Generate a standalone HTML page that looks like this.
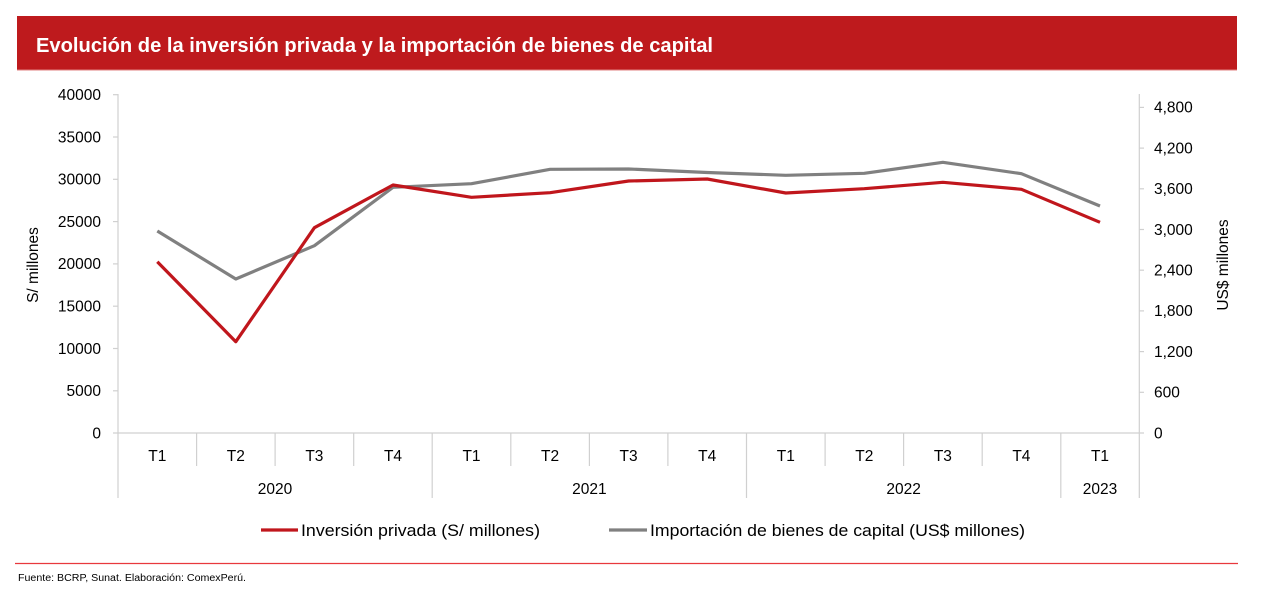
<!DOCTYPE html>
<html>
<head>
<meta charset="utf-8">
<style>
  html,body{margin:0;padding:0;background:#fff;}
  svg{display:block;font-family:"Liberation Sans",Arial,sans-serif;}
</style>
</head>
<body>
<svg width="1263" height="595" viewBox="0 0 1263 595" xmlns="http://www.w3.org/2000/svg">
  <rect x="0" y="0" width="1263" height="595" fill="#fff"/>
  <!-- Header -->
  <rect x="17" y="16" width="1220" height="54" fill="#BE1A1D"/>
  <line x1="17" y1="70" x2="1237" y2="70" stroke="#E08080" stroke-width="1"/>
  <text x="36" y="52" fill="#fff" font-size="20" font-weight="bold" textLength="677" lengthAdjust="spacingAndGlyphs">Evolución de la inversión privada y la importación de bienes de capital</text>

  <!-- Axes -->
  <g stroke="#D0D0D0" stroke-width="1.2" fill="none">
    <line x1="118" y1="94" x2="118" y2="498"/>
    <line x1="1139.3" y1="94" x2="1139.3" y2="498"/>
    <line x1="113" y1="433" x2="1144" y2="433"/>
    <line x1="113" y1="94.7" x2="118" y2="94.7"/>
    <line x1="113" y1="137" x2="118" y2="137"/>
    <line x1="113" y1="179.3" x2="118" y2="179.3"/>
    <line x1="113" y1="221.6" x2="118" y2="221.6"/>
    <line x1="113" y1="263.9" x2="118" y2="263.9"/>
    <line x1="113" y1="306.2" x2="118" y2="306.2"/>
    <line x1="113" y1="348.5" x2="118" y2="348.5"/>
    <line x1="113" y1="390.8" x2="118" y2="390.8"/>
    <line x1="1139.3" y1="107.4" x2="1144" y2="107.4"/>
    <line x1="1139.3" y1="148.1" x2="1144" y2="148.1"/>
    <line x1="1139.3" y1="188.8" x2="1144" y2="188.8"/>
    <line x1="1139.3" y1="229.5" x2="1144" y2="229.5"/>
    <line x1="1139.3" y1="270.2" x2="1144" y2="270.2"/>
    <line x1="1139.3" y1="310.9" x2="1144" y2="310.9"/>
    <line x1="1139.3" y1="351.6" x2="1144" y2="351.6"/>
    <line x1="1139.3" y1="392.3" x2="1144" y2="392.3"/>
    <line x1="196.6" y1="433" x2="196.6" y2="466"/>
    <line x1="275.1" y1="433" x2="275.1" y2="466"/>
    <line x1="353.7" y1="433" x2="353.7" y2="466"/>
    <line x1="432.2" y1="433" x2="432.2" y2="498"/>
    <line x1="510.8" y1="433" x2="510.8" y2="466"/>
    <line x1="589.4" y1="433" x2="589.4" y2="466"/>
    <line x1="667.9" y1="433" x2="667.9" y2="466"/>
    <line x1="746.5" y1="433" x2="746.5" y2="498"/>
    <line x1="825.1" y1="433" x2="825.1" y2="466"/>
    <line x1="903.6" y1="433" x2="903.6" y2="466"/>
    <line x1="982.2" y1="433" x2="982.2" y2="466"/>
    <line x1="1060.8" y1="433" x2="1060.8" y2="498"/>
  </g>

  <!-- Left tick labels -->
  <g font-size="15.5" fill="#000" text-anchor="end">
    <text x="101" y="100">40000</text>
    <text x="101" y="142.3">35000</text>
    <text x="101" y="184.6">30000</text>
    <text x="101" y="226.9">25000</text>
    <text x="101" y="269.2">20000</text>
    <text x="101" y="311.5">15000</text>
    <text x="101" y="353.8">10000</text>
    <text x="101" y="396.1">5000</text>
    <text x="101" y="438.4">0</text>
  </g>
  <!-- Right tick labels -->
  <g font-size="15.5" fill="#000" text-anchor="start">
    <text x="1154" y="112.7">4,800</text>
    <text x="1154" y="153.4">4,200</text>
    <text x="1154" y="194.1">3,600</text>
    <text x="1154" y="234.8">3,000</text>
    <text x="1154" y="275.5">2,400</text>
    <text x="1154" y="316.2">1,800</text>
    <text x="1154" y="356.9">1,200</text>
    <text x="1154" y="397.6">600</text>
    <text x="1154" y="438.3">0</text>
  </g>

  <!-- Axis titles -->
  <text transform="translate(38,265) rotate(-90)" font-size="15.5" text-anchor="middle">S/ millones</text>
  <text transform="translate(1228,265) rotate(-90)" font-size="15.5" text-anchor="middle">US$ millones</text>

  <!-- Category labels -->
  <g font-size="15.5" text-anchor="middle" fill="#000">
    <text x="157.3" y="461">T1</text>
    <text x="235.8" y="461">T2</text>
    <text x="314.4" y="461">T3</text>
    <text x="393" y="461">T4</text>
    <text x="471.5" y="461">T1</text>
    <text x="550.1" y="461">T2</text>
    <text x="628.6" y="461">T3</text>
    <text x="707.2" y="461">T4</text>
    <text x="785.8" y="461">T1</text>
    <text x="864.3" y="461">T2</text>
    <text x="942.9" y="461">T3</text>
    <text x="1021.4" y="461">T4</text>
    <text x="1100" y="461">T1</text>
    <text x="275" y="494">2020</text>
    <text x="589.4" y="494">2021</text>
    <text x="903.6" y="494">2022</text>
    <text x="1100" y="494">2023</text>
  </g>

  <!-- Series -->
  <polyline fill="none" stroke="#808080" stroke-width="3.2" stroke-linejoin="round"
    points="157.3,231 235.8,279 314.4,245.7 393,187.3 471.5,183.7 550.1,169.3 628.6,169 707.2,172.5 785.8,175.3 864.3,173.3 942.9,162.3 1021.4,173.7 1100,206"/>
  <polyline fill="none" stroke="#C0161C" stroke-width="3.2" stroke-linejoin="round"
    points="157.3,261.7 235.8,341.7 314.4,227.7 393,185 471.5,197.3 550.1,192.7 628.6,181 707.2,179 785.8,193 864.3,188.7 942.9,182.3 1021.4,189.3 1100,222.3"/>

  <!-- Legend -->
  <line x1="261" y1="530" x2="298" y2="530" stroke="#C0161C" stroke-width="3.2"/>
  <text x="301" y="536" font-size="17" textLength="239" lengthAdjust="spacingAndGlyphs">Inversión privada (S/ millones)</text>
  <line x1="609" y1="530" x2="647" y2="530" stroke="#808080" stroke-width="3.2"/>
  <text x="650" y="536" font-size="17" textLength="375" lengthAdjust="spacingAndGlyphs">Importación de bienes de capital (US$ millones)</text>

  <!-- Bottom rule & source -->
  <line x1="15" y1="563.5" x2="1238" y2="563.5" stroke="#E8383D" stroke-width="1.3"/>
  <text x="18" y="581" font-size="10" textLength="228" lengthAdjust="spacingAndGlyphs">Fuente: BCRP, Sunat. Elaboración: ComexPerú.</text>
</svg>
</body>
</html>
